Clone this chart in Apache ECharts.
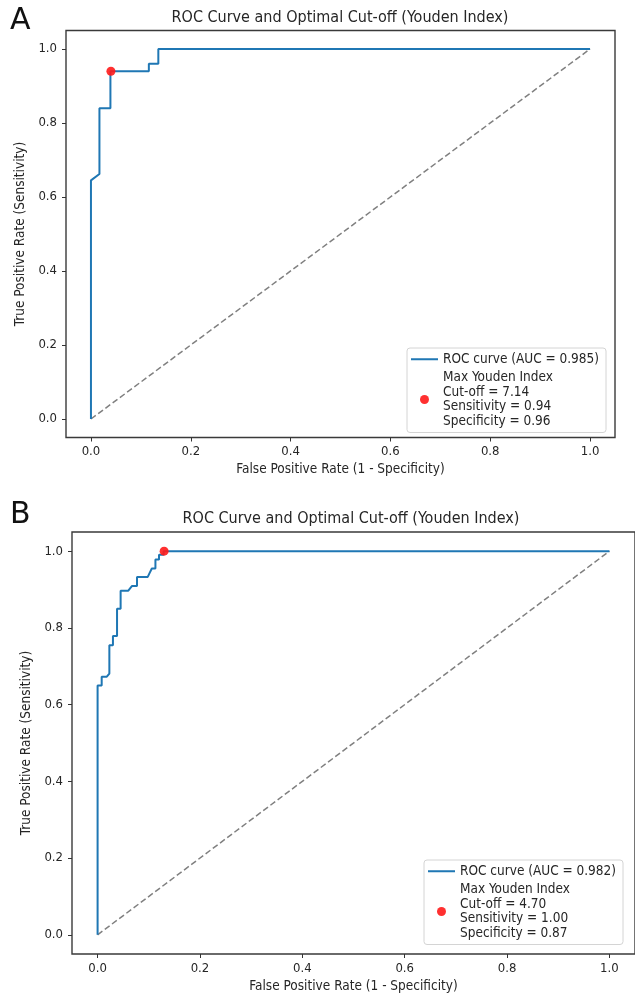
<!DOCTYPE html>
<html>
<head>
<meta charset="utf-8">
<script src="https://cdn.jsdelivr.net/npm/echarts@6/dist/echarts.min.js"></script>
<style>
  html, body { margin: 0; padding: 0; background: #fff; }
  #chart { width: 635px; height: 995px; }
</style>
</head>
<body>
<div id="chart"></div>
<script>
// ROC 数据
var fprA = [0, 0, 0.017, 0.017, 0.039, 0.039, 0.116, 0.116, 0.135, 0.135, 1];
var tprA = [0, 0.645, 0.662, 0.84, 0.84, 0.94, 0.94, 0.96, 0.96, 1, 1];
var fprB = [0, 0, 0.008, 0.008, 0.018, 0.023, 0.023, 0.030, 0.030, 0.038, 0.038, 0.045, 0.045, 0.060, 0.067, 0.077, 0.077, 0.098, 0.102, 0.106, 0.113, 0.113, 0.120, 0.120, 0.129, 0.129, 1];
var tprB = [0, 0.65, 0.65, 0.673, 0.673, 0.681, 0.755, 0.755, 0.779, 0.779, 0.850, 0.850, 0.897, 0.897, 0.909, 0.909, 0.933, 0.933, 0.944, 0.955, 0.955, 0.978, 0.978, 0.991, 0.991, 1.0, 1.0];
var chanceX = [0, 1];
var chanceY = [0, 1];
// 最佳截断点
var bestA = [0.04, 0.94];
var bestB = [0.13, 1.0];
var tickVals = [0, 0.2, 0.4, 0.6, 0.8, 1.0];
var rocNameA = 'ROC curve (AUC = 0.985)';
var rocNameB = 'ROC curve (AUC = 0.982)';
var youdenA = ['Max Youden Index', 'Cut-off = 7.14', 'Sensitivity = 0.94', 'Specificity = 0.96'];
var youdenB = ['Max Youden Index', 'Cut-off = 4.70', 'Sensitivity = 1.00', 'Specificity = 0.87'];
var titleText = 'ROC Curve and Optimal Cut-off (Youden Index)';
var xName = 'False Positive Rate (1 - Specificity)';
var yName = 'True Positive Rate (Sensitivity)';

var FONT = "'DejaVu Sans Condensed', 'DejaVu Sans', sans-serif";
var TXT = '#262626';
// 图例里的短横线
var LINE_ICON = 'path://M0,0H0.01V0.01H0ZM0,4H30V6H0ZM29.99,9.99H30V10H29.99Z';

function pairs(xs, ys) {
  var out = [];
  for (let i = 0; i < xs.length; i++) {
    out[i] = [xs[i], ys[i]];
  }
  return out;
}

function xAxisOf(idx) {
  return {
    type: 'value', gridIndex: idx, min: -0.05, max: 1.05,
    name: xName, nameLocation: 'middle', nameGap: 25,
    nameTextStyle: { fontSize: 13.5, fontFamily: FONT, color: TXT },
    axisLine: { show: false, onZero: false },
    axisTick: { show: true, length: 4, customValues: tickVals, lineStyle: { color: '#333', width: 1 } },
    axisLabel: {
      customValues: tickVals, margin: 8, fontSize: 13, fontFamily: FONT, color: TXT,
      formatter: function (v) { return v.toFixed(1); }
    },
    splitLine: { show: false }
  };
}

function yAxisOf(idx) {
  return {
    type: 'value', gridIndex: idx, min: -0.05, max: 1.05,
    name: yName, nameLocation: 'middle', nameGap: 30,
    nameTextStyle: { fontSize: 13.5, fontFamily: FONT, color: TXT },
    axisLine: { show: false, onZero: false },
    axisTick: { show: true, length: 4, customValues: tickVals, lineStyle: { color: '#333', width: 1 } },
    axisLabel: {
      customValues: tickVals, margin: 9, fontSize: 13, fontFamily: FONT, color: TXT,
      formatter: function (v) { return v.toFixed(1); }
    },
    splitLine: { show: false }
  };
}

function legendOf(left, top, rocName, youdenName, youdenLines) {
  return {
    orient: 'vertical', left: left, top: top,
    data: [{ name: rocName, icon: LINE_ICON }, { name: youdenName, icon: 'circle' }],
    backgroundColor: '#fff', borderColor: '#d4d4d4', borderWidth: 1, borderRadius: 3,
    padding: [4, 7, 4, 4], itemWidth: 27, itemHeight: 9, itemGap: 4,
    textStyle: { fontSize: 13.5, fontFamily: FONT, color: TXT, lineHeight: 14.5 },
    formatter: function (name) {
      if (name === youdenName) return youdenLines.join('\n');
      return name;
    }
  };
}

function seriesOf(idx, rocName, fpr, tpr, youdenName, best) {
  return [{
    name: rocName, type: 'line', xAxisIndex: idx, yAxisIndex: idx,
    data: pairs(fpr, tpr), symbol: 'none', smooth: false,
    lineStyle: { color: '#1f77b4', width: 2 }, itemStyle: { color: '#1f77b4' }, z: 3
  }, {
    name: 'chance' + idx, type: 'line', xAxisIndex: idx, yAxisIndex: idx,
    data: pairs(chanceX, chanceY), symbol: 'none',
    lineStyle: { color: '#808080', width: 1.5, type: [6, 3] }, z: 2
  }, {
    name: youdenName, type: 'scatter', xAxisIndex: idx, yAxisIndex: idx,
    data: [best], symbol: 'circle', symbolSize: 9,
    itemStyle: { color: '#ff1a1a', opacity: 0.9 }, z: 4
  }];
}

var myChart = echarts.init(document.getElementById('chart'), null, { renderer: 'canvas' });
var option = {
  backgroundColor: '#fff',
  animation: false,
  grid: [
    { left: 66, top: 30.5, width: 549, height: 407, show: true, borderColor: '#3a3a3a', borderWidth: 1.4, backgroundColor: 'transparent' },
    { left: 72, top: 532, width: 570, height: 422, show: true, borderColor: '#3a3a3a', borderWidth: 1.4, backgroundColor: 'transparent' }
  ],
  xAxis: [xAxisOf(0), xAxisOf(1)],
  yAxis: [yAxisOf(0), yAxisOf(1)],
  legend: [
    legendOf(407, 348, rocNameA, 'youdenA', youdenA),
    legendOf(424, 860, rocNameB, 'youdenB', youdenB)
  ],
  graphic: [
    { type: 'text', x: 10, y: 6, style: { text: 'A', fontSize: 30, fontFamily: "'DejaVu Sans', sans-serif", fill: '#111' } },
    { type: 'text', x: 10, y: 500, style: { text: 'B', fontSize: 30, fontFamily: "'DejaVu Sans', sans-serif", fill: '#111' } },
    { type: 'text', x: 340, y: 18, style: { text: titleText, fontSize: 16, fontFamily: FONT, fill: TXT, align: 'center', verticalAlign: 'middle' } },
    { type: 'text', x: 351, y: 519, style: { text: titleText, fontSize: 16, fontFamily: FONT, fill: TXT, align: 'center', verticalAlign: 'middle' } }
  ],
  series: [].concat(
    seriesOf(0, rocNameA, fprA, tprA, 'youdenA', bestA),
    seriesOf(1, rocNameB, fprB, tprB, 'youdenB', bestB)
  )
};
myChart.setOption(option);
</script>
</body>
</html>
